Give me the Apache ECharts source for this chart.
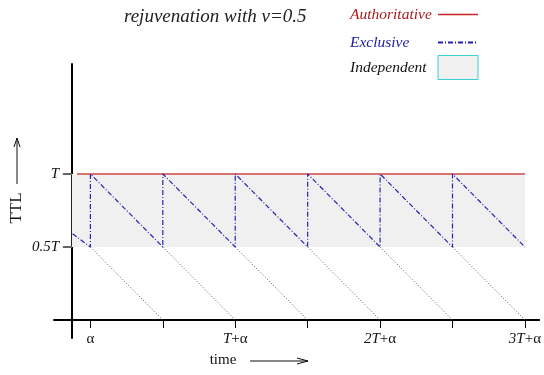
<!DOCTYPE html>
<html>
<head>
<meta charset="utf-8">
<script src="https://cdn.jsdelivr.net/npm/echarts@6/dist/echarts.min.js"></script>
<style>
  html, body { margin: 0; padding: 0; background: #fff; }
  #chart { width: 544px; height: 375px; }
</style>
</head>
<body>
<div id="chart"></div>
<script>
// TTL rejuvenation sketch, time in units of T (T = 1), alpha

const xTickValues = [0.128, 0.628, 1.128, 1.628, 2.128, 2.628, 3.128];
const xTickLabels = ['α', '', 'T+α', '', '2T+α', '', '3T+α'];
const yTickValues = [0.5, 1];
const yTickLabels = ['0.5T', 'T'];

const authoritative = [[0.036, 1], [3.128, 1]];
const exclusive = [
  [0.005, 0.59], [0.128, 0.5], [0.128, 1], [0.628, 0.5], [0.628, 1], [1.128, 0.5],
  [1.128, 1], [1.628, 0.5], [1.628, 1], [2.128, 0.5], [2.128, 1], [2.628, 0.5],
  [2.628, 1], [3.128, 0.5],
];
// dotted continuation of each TTL down to expiry; null breaks the line
const expiry = [
  [0.128, 0.5], [0.628, 0], [0.628, null],
  [0.628, 0.5], [1.128, 0], [1.128, null],
  [1.128, 0.5], [1.628, 0], [1.628, null],
  [1.628, 0.5], [2.128, 0], [2.128, null],
  [2.128, 0.5], [2.628, 0], [2.628, null],
  [2.628, 0.5], [3.128, 0],
];
const independentBand = [[0, 0.5], [3.128, 1]];

const SERIF = '"Liberation Serif", "DejaVu Serif", serif';
const DASHDOT = [5, 2, 1, 2];
const BLUE = '#2323b0';
const RED = '#d24646';
const NO_SYMBOL = { color: 'rgba(0,0,0,0)', borderColor: 'rgba(0,0,0,0)', borderWidth: 0 };

const chart = echarts.init(document.getElementById('chart'), null, { renderer: 'canvas' });

const labelFmt = (v) => {
  const i = xTickValues.findIndex(t => Math.abs(t - v) < 1e-6);
  const s = i < 0 ? '' : xTickLabels[i];
  return s.replace(/(\d*T)/, '{i|$1}');
};

// one legend per entry so each row sits where the reference puts it;
// fixed-width left-aligned token keeps labels at x=350 and icons in one column
const legendRow = (top, item) => ({
  orient: 'vertical', left: 345, top, align: 'right',
  itemWidth: 40, itemHeight: 24, selectedMode: false,
  formatter: (name) => '{a|' + name + '}',
  textStyle: {
    fontFamily: SERIF, fontStyle: 'italic', fontSize: 15.5,
    rich: { a: { width: 83, align: 'left', fontFamily: SERIF, fontStyle: 'italic', fontSize: 15.5 } },
  },
  data: [item],
});

chart.setOption({
  animation: false,
  title: {
    text: 'rejuvenation with v=0.5', left: 119, top: 2,
    textStyle: { fontFamily: SERIF, fontStyle: 'italic', fontWeight: 'normal', fontSize: 19, color: '#222' },
  },
  legend: [
    legendRow(0, { name: 'Authoritative', textStyle: { color: '#a81c1c' },
      itemStyle: NO_SYMBOL, lineStyle: { color: '#c82424', width: 1.5 } }),
    legendRow(28, { name: 'Exclusive', textStyle: { color: '#1c1ca8' }, itemStyle: NO_SYMBOL }),
    legendRow(50, { name: 'Independent', icon: 'rect', textStyle: { color: '#111' },
      itemStyle: { color: '#f0f0f0', borderColor: '#3ad2d2', borderWidth: 1 } }),
  ],
  grid: { left: 54, right: 1, top: 64, bottom: 37 },
  xAxis: {
    type: 'value', min: -0.1233, max: 3.226,
    axisLine: { onZero: true, lineStyle: { color: '#000', width: 2 } },
    axisTick: { customValues: xTickValues, length: 8, lineStyle: { color: '#000', width: 1 } },
    axisLabel: {
      customValues: xTickValues.filter((v, i) => xTickLabels[i]), formatter: labelFmt,
      margin: -6, fontFamily: SERIF, fontSize: 15, color: '#111',
      rich: { i: { fontFamily: SERIF, fontStyle: 'italic', fontSize: 15, color: '#111' } },
    },
    splitLine: { show: false },
  },
  yAxis: {
    type: 'value', min: -0.1233, max: 1.753,
    axisLine: { onZero: true, lineStyle: { color: '#000', width: 2 } },
    axisTick: { customValues: yTickValues, length: 9, lineStyle: { color: '#666', width: 2 } },
    axisLabel: {
      customValues: yTickValues, formatter: (v) => yTickLabels[yTickValues.indexOf(v)] || '',
      margin: -5, fontFamily: SERIF, fontStyle: 'italic', fontSize: 15, color: '#111',
    },
    splitLine: { show: false },
  },
  series: [
    {
      name: 'Independent', type: 'line', data: [], silent: true, symbol: 'none',
      itemStyle: { color: '#f0f0f0', borderColor: '#3ad2d2', borderWidth: 1 },
      markArea: {
        silent: true, label: { show: false }, itemStyle: { color: '#f0f0f0' },
        data: [[{ coord: independentBand[0] }, { coord: independentBand[1] }]],
      },
    },
    {
      name: 'expiry', type: 'line', data: expiry, symbol: 'none', silent: true, connectNulls: false,
      lineStyle: { color: '#555', width: 1, type: [1, 2] },
    },
    {
      name: 'Authoritative', type: 'line', data: authoritative, symbol: 'none', silent: true,
      lineStyle: { color: RED, width: 1.5 }, itemStyle: { color: RED },
    },
    {
      name: 'Exclusive', type: 'line', data: exclusive, symbol: 'none', silent: true,
      lineStyle: { color: BLUE, width: 1.2, type: DASHDOT }, itemStyle: { color: BLUE },
    },
  ],
  graphic: [
    { type: 'text', x: 17, y: 208, rotation: Math.PI / 2,
      style: { text: 'TTL', font: '17px ' + SERIF, fill: '#111', align: 'center', verticalAlign: 'middle' } },
    { type: 'polyline', shape: { points: [[17, 184], [17, 138]] }, style: { stroke: '#111', lineWidth: 1, fill: null } },
    { type: 'polyline', shape: { points: [[14, 147], [17, 138], [20, 147]] }, style: { stroke: '#111', lineWidth: 1, fill: null } },
    { type: 'text', x: 223, y: 360,
      style: { text: 'time', font: '15px ' + SERIF, fill: '#111', align: 'center', verticalAlign: 'middle' } },
    { type: 'polyline', shape: { points: [[250, 361], [308, 361]] }, style: { stroke: '#111', lineWidth: 1, fill: null } },
    { type: 'polyline', shape: { points: [[297, 358], [308, 361], [297, 364]] }, style: { stroke: '#111', lineWidth: 1, fill: null } },
  ],
});
</script>
</body>
</html>
